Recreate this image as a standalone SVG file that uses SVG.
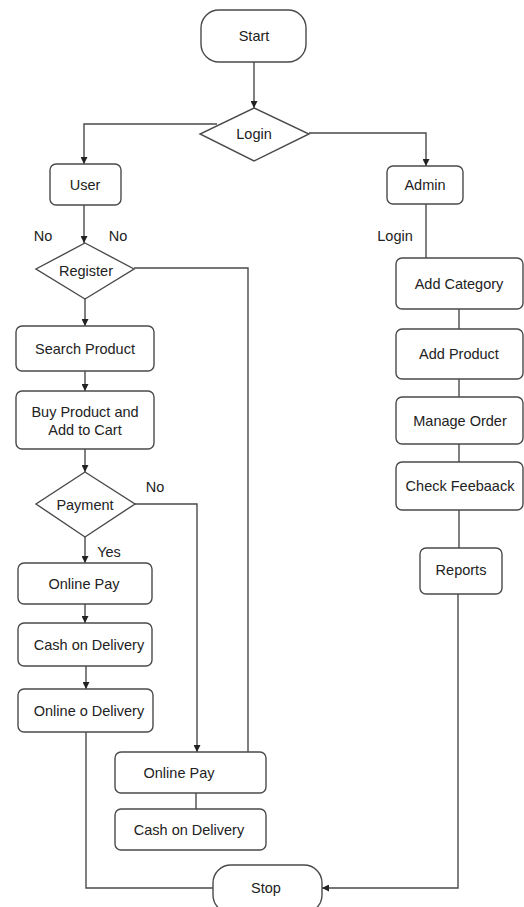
<svg xmlns="http://www.w3.org/2000/svg" width="524" height="907" viewBox="0 0 524 907">
  <style>
    .box { fill: #ffffff; stroke: #4a4a4a; stroke-width: 1.4; }
    .ln { fill: none; stroke: #4a4a4a; stroke-width: 1.4; }
    .arr { marker-end: url(#head); }
    text { font-family: "Liberation Sans", Arial, sans-serif; font-size: 14.5px; fill: #222222; }
    .c { text-anchor: middle; }
  </style>
  <defs>
    <marker id="head" viewBox="0 0 10 10" refX="10" refY="5" markerWidth="7" markerHeight="7" markerUnits="userSpaceOnUse" orient="auto">
      <path d="M0,0 L10,5 L0,10 z" fill="#222222"/>
    </marker>
  </defs>
  <rect width="524" height="907" fill="#ffffff"/>

  <g id="connectors">
    <path class="ln arr" d="M254,62 V108"/>
    <path class="ln arr" d="M217,124 H84 V164"/>
    <path class="ln arr" d="M309,133 H426 V166"/>
    <path class="ln arr" d="M84,205 V243"/>
    <path class="ln" d="M134,268 H248 V752"/>
    <path class="ln arr" d="M85,299 V326"/>
    <path class="ln arr" d="M85,371 V391"/>
    <path class="ln arr" d="M85,449 V472"/>
    <path class="ln arr" d="M85,537 V563"/>
    <path class="ln arr" d="M135,504 H197 V752"/>
    <path class="ln arr" d="M85,604 V623"/>
    <path class="ln arr" d="M86,666 V689"/>
    <path class="ln" d="M86,732 V888 H213"/>
    <path class="ln" d="M196,793 V809"/>
    <path class="ln" d="M426,204 V258"/>
    <path class="ln" d="M459,309 V329"/>
    <path class="ln" d="M459,379 V397"/>
    <path class="ln" d="M459,444 V462"/>
    <path class="ln" d="M459,510 V548"/>
    <path class="ln arr" d="M458,594 V888 H322"/>
  </g>

  <g id="edge-labels">
    <text x="43" y="241" class="c">No</text>
    <text x="118" y="241" class="c">No</text>
    <text x="395" y="241" class="c">Login</text>
    <text x="155" y="492" class="c">No</text>
    <text x="109" y="557" class="c">Yes</text>
  </g>

  <g id="start">
    <rect class="box" x="201" y="10" width="105" height="52" rx="18"/>
    <text x="254" y="41" class="c">Start</text>
  </g>
  <g id="login">
    <polygon class="box" points="254,108 309,134 254,161 200,134"/>
    <text x="254" y="139" class="c">Login</text>
  </g>
  <g id="user">
    <rect class="box" x="50" y="164" width="71" height="41" rx="6"/>
    <text x="85" y="190" class="c">User</text>
  </g>
  <g id="admin">
    <rect class="box" x="387" y="166" width="76" height="38" rx="6"/>
    <text x="425" y="190" class="c">Admin</text>
  </g>
  <g id="register">
    <polygon class="box" points="85,243 134,269 85,299 36,269"/>
    <text x="86" y="276" class="c">Register</text>
  </g>
  <g id="search-product">
    <rect class="box" x="16" y="326" width="138" height="45" rx="6"/>
    <text x="85" y="354" class="c">Search Product</text>
  </g>
  <g id="buy-product">
    <rect class="box" x="16" y="391" width="138" height="58" rx="6"/>
    <text x="85" y="417" class="c">Buy Product and</text>
    <text x="85" y="435" class="c">Add to Cart</text>
  </g>
  <g id="payment">
    <polygon class="box" points="85,472 135,504 85,537 36,504"/>
    <text x="85" y="510" class="c">Payment</text>
  </g>
  <g id="online-pay">
    <rect class="box" x="18" y="563" width="134" height="41" rx="6"/>
    <text x="84" y="589" class="c">Online Pay</text>
  </g>
  <g id="cash-on-delivery">
    <rect class="box" x="18" y="623" width="134" height="43" rx="6"/>
    <text x="89" y="650" class="c">Cash on Delivery</text>
  </g>
  <g id="online-delivery">
    <rect class="box" x="18" y="689" width="135" height="43" rx="6"/>
    <text x="89" y="716" class="c">Online o Delivery</text>
  </g>
  <g id="online-pay-2">
    <rect class="box" x="115" y="752" width="151" height="41" rx="6"/>
    <text x="179" y="778" class="c">Online Pay</text>
  </g>
  <g id="cash-on-delivery-2">
    <rect class="box" x="115" y="809" width="151" height="41" rx="6"/>
    <text x="189" y="835" class="c">Cash on Delivery</text>
  </g>
  <g id="add-category">
    <rect class="box" x="396" y="258" width="127" height="51" rx="6"/>
    <text x="459" y="289" class="c">Add Category</text>
  </g>
  <g id="add-product">
    <rect class="box" x="396" y="329" width="127" height="50" rx="6"/>
    <text x="459" y="359" class="c">Add Product</text>
  </g>
  <g id="manage-order">
    <rect class="box" x="396" y="397" width="127" height="47" rx="6"/>
    <text x="460" y="426" class="c">Manage Order</text>
  </g>
  <g id="check-feedback">
    <rect class="box" x="396" y="462" width="127" height="48" rx="6"/>
    <text x="460" y="491" class="c">Check Feebaack</text>
  </g>
  <g id="reports">
    <rect class="box" x="420" y="548" width="82" height="46" rx="6"/>
    <text x="461" y="575" class="c">Reports</text>
  </g>
  <g id="stop">
    <rect class="box" x="213" y="865" width="109" height="48" rx="18"/>
    <text x="266" y="893" class="c">Stop</text>
  </g>
</svg>
